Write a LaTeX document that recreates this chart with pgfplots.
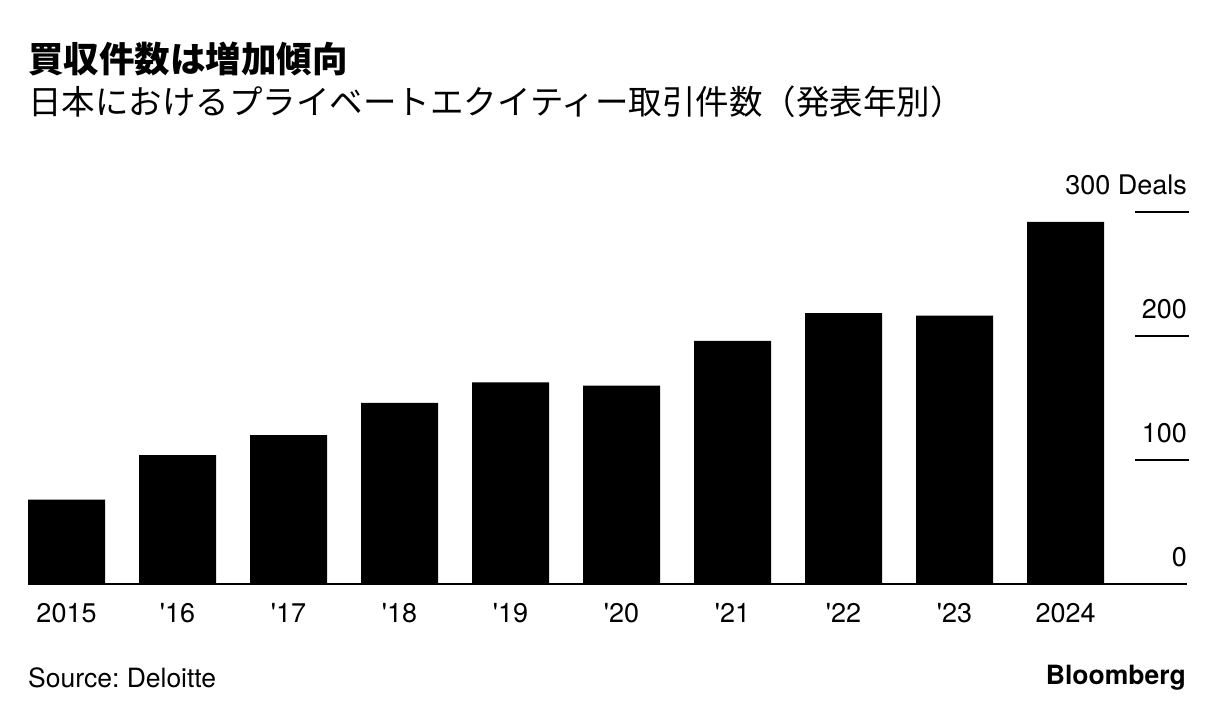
\documentclass[border=0pt]{standalone}
\usepackage{fontspec}
\usepackage{pgfplots}
\pgfplotsset{compat=1.18}
\setmainfont{TeX Gyre Heros}
\newfontfamily\lat{TeX Gyre Heros}
\newfontfamily\jp{Noto Sans CJK JP}
\frenchspacing
\begin{document}
\begin{tikzpicture}[x=1pt,y=1pt]
\path[use as bounding box] (0,0) rectangle (1223,720);
\node[anchor=base west, inner sep=0, font={\fontsize{35.5}{40}\selectfont\jp\bfseries}] at (28,647) {買収件数は増加傾向};
\node[anchor=base west, inner sep=0, font={\fontsize{33.5}{40}\selectfont\jp}] at (28,605) {日本におけるプライベートエクイティー取引件数（発表年別）};
\begin{axis}[
  at={(28pt,136pt)}, anchor=south west,
  scale only axis, width=1159pt, height=372pt,
  xmin=-0.347, xmax=10.094, ymin=0, ymax=300,
  axis x line*=bottom, axis y line=none,
  axis line style={line width=1.6pt, black},
  xtick={0,...,9},
  xticklabels={2015,{\textquotesingle16},{\textquotesingle17},{\textquotesingle18},{\textquotesingle19},{\textquotesingle20},{\textquotesingle21},{\textquotesingle22},{\textquotesingle23},2024},
  major tick length=0pt,
  xticklabel style={anchor=base, yshift=-38pt, font=\fontsize{27}{30}\selectfont\lat},
  clip=false,
]
\addplot[ybar, bar width=77pt, bar shift=0pt, fill=black, draw=none] coordinates {
(0,68) (1,104) (2,120) (3,146) (4,162.5) (5,160) (6,196) (7,218.5) (8,216.5) (9,292)};
\addplot[line width=1.6pt, black] coordinates {(9.626,100) (10.11,100)};
\addplot[line width=1.6pt, black] coordinates {(9.626,200) (10.11,200)};
\addplot[line width=1.6pt, black] coordinates {(9.626,300) (10.11,300)};
\node[anchor=base east, inner sep=0, font=\fontsize{27}{30}\selectfont\lat] at (axis cs:10.094,0) [yshift=17pt] {0};
\node[anchor=base east, inner sep=0, font=\fontsize{27}{30}\selectfont\lat] at (axis cs:10.094,100) [yshift=17pt] {100};
\node[anchor=base east, inner sep=0, font=\fontsize{27}{30}\selectfont\lat] at (axis cs:10.094,200) [yshift=17pt] {200};
\node[anchor=base east, inner sep=0, font=\fontsize{27}{30}\selectfont\lat] at (axis cs:10.094,300) [yshift=17pt] {300 Deals};
\end{axis}
\node[anchor=base west, inner sep=0, font=\fontsize{26.5}{30}\selectfont\lat] at (28,33) {Source: Deloitte};
\node[anchor=base east, inner sep=0, font=\fontsize{26.5}{30}\selectfont\lat\bfseries] at (1186,35) {Bloomberg};
\end{tikzpicture}
\end{document}
